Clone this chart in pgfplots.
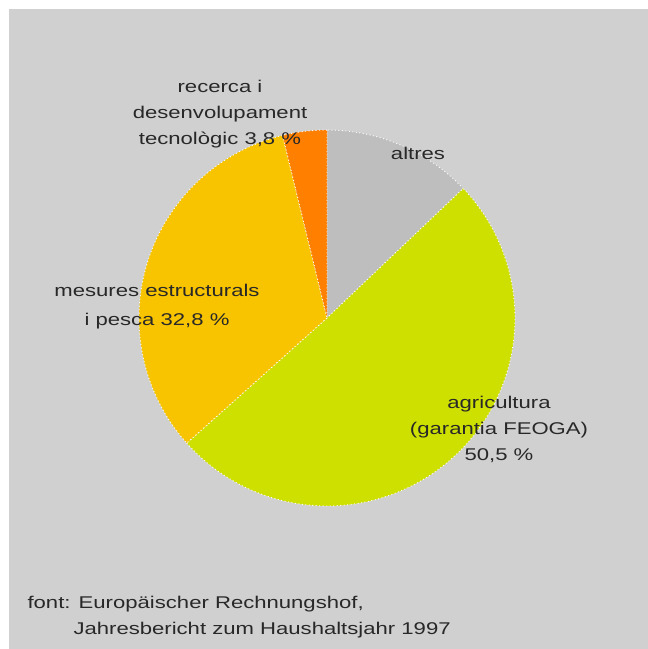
\documentclass[border=0pt]{standalone}
\usepackage{pgfplots}
\pgfplotsset{compat=1.18}
\usepackage{fontspec}
\setmainfont{Liberation Sans}
\newfontfamily\chartfont[FakeStretch=1.3]{Liberation Sans}

\definecolor{bgGray}{RGB}{208,208,208}
\definecolor{sliceGray}{RGB}{190,190,190}
\definecolor{agriGreen}{RGB}{206,224,0}
\definecolor{mesYellow}{RGB}{248,196,0}
\definecolor{recOrange}{RGB}{255,128,0}
\definecolor{txt}{RGB}{40,40,40}

% shares in percent, clockwise from 12 o'clock
\def\pAltres{12.9}
\def\pAgri{50.5}
\def\pMes{32.8}
\def\pRec{3.8}

\pgfmathsetmacro{\aA}{90}
\pgfmathsetmacro{\aB}{\aA-3.6*\pAltres}
\pgfmathsetmacro{\aC}{\aB-3.6*\pAgri}
\pgfmathsetmacro{\aD}{\aC-3.6*\pMes}
\pgfmathsetmacro{\aE}{\aD-3.6*\pRec}

\def\cx{327}
\def\cy{-318}
\def\rr{188}

\tikzset{lbl/.style={font=\chartfont\fontsize{17}{26}\selectfont, text=txt}}

\begin{document}
\begin{tikzpicture}
\begin{axis}[
  scale only axis, width=648pt, height=649pt,
  xmin=0, xmax=648, ymin=-649, ymax=0,
  hide axis, clip=false,
  slice/.style={draw=white, line width=0.9pt, dash pattern=on 1pt off 2.5pt, samples=90, variable=\t}
]
% background
\addplot[fill=white, draw=none] coordinates {(0,0) (648,0) (648,-649) (0,-649)} -- cycle;
\addplot[fill=bgGray, draw=none] coordinates {(9,-9) (648,-9) (648,-649) (9,-649)} -- cycle;

% pie slices
\addplot[slice, fill=sliceGray, domain=\aB:\aA] ({\cx+\rr*cos(\t)}, {\cy+\rr*sin(\t)}) -- (axis cs:\cx,\cy) -- cycle;
\addplot[slice, fill=agriGreen, domain=\aC:\aB] ({\cx+\rr*cos(\t)}, {\cy+\rr*sin(\t)}) -- (axis cs:\cx,\cy) -- cycle;
\addplot[slice, fill=mesYellow, domain=\aD:\aC] ({\cx+\rr*cos(\t)}, {\cy+\rr*sin(\t)}) -- (axis cs:\cx,\cy) -- cycle;
\addplot[slice, fill=recOrange, domain=\aE:\aD] ({\cx+\rr*cos(\t)}, {\cy+\rr*sin(\t)}) -- (axis cs:\cx,\cy) -- cycle;

% labels
\node[lbl, align=center] at (axis cs:220,-114) {recerca i\\desenvolupament\\tecnològic 3,8 \%};
\node[lbl] at (axis cs:418,-153) {altres};
\node[lbl, align=center, font=\chartfont\fontsize{17}{29}\selectfont] at (axis cs:157,-307) {mesures estructurals\\i pesca 32,8 \%};
\node[lbl, align=center] at (axis cs:499,-429) {agricultura\\(garantia FEOGA)\\50,5 \%};
\node[lbl, anchor=west, align=left] at (axis cs:24,-617) {font: Europäischer Rechnungshof,\\\hspace{46pt}Jahresbericht zum Haushaltsjahr 1997};
\end{axis}
\end{tikzpicture}
\end{document}
